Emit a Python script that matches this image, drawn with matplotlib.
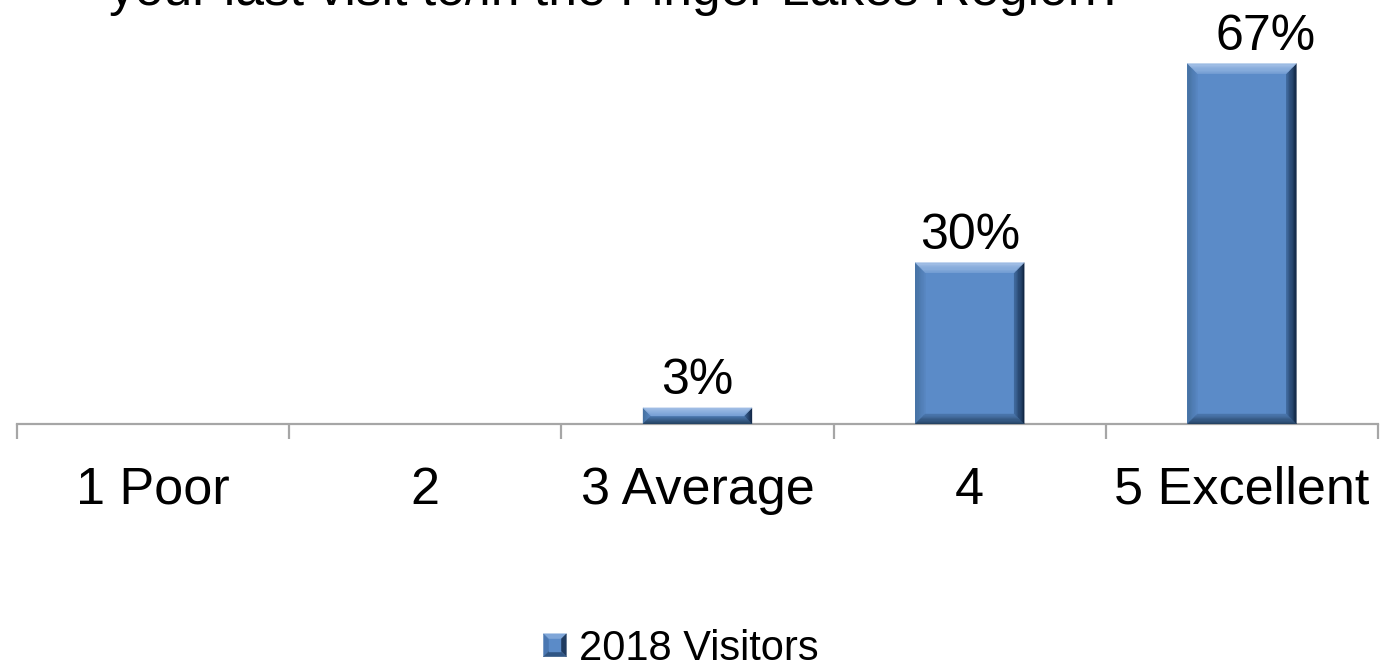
import numpy as np
import matplotlib
matplotlib.use("Agg")
import matplotlib.pyplot as plt
from matplotlib.patches import Polygon
from matplotlib.legend_handler import HandlerBase
from matplotlib.colors import to_rgb

plt.rcParams['font.family'] = ['Liberation Sans', 'DejaVu Sans']

# Survey data
categories = ["1 Poor", "2", "3 Average", "4", "5 Excellent"]
visitors_2018 = [0, 0, 3, 30, 67]
series_name = "2018 Visitors"
title_text = "your last visit to/in the Finger Lakes Region?"

FACE = "#5B8BC8"
BEVEL = {
    "top": ("#A8C3E8", "#78A1D6"),
    "left": ("#44709F", "#5886C2"),
    "right": ("#0F2440", "#3F689C"),
    "bottom": ("#22405F", "#4C77AF"),
}


def mix(c0, c1, t):
    a, b = np.array(to_rgb(c0)), np.array(to_rgb(c1))
    return tuple(a + (b - a) * t)


def add_bevel(ax, patch, size_px=10, steps=8):
    """Overlay a bevelled frame (in pixel units) on a bar patch."""
    to_disp = ax.transData
    to_data = ax.transData.inverted()
    x, y = patch.get_x(), patch.get_y()
    w, h = patch.get_width(), patch.get_height()
    (x0, y0), (x1, y1) = to_disp.transform([(x, y), (x + w, y + h)])
    b = min(size_px, (y1 - y0) / 2.0, (x1 - x0) / 2.0)
    if b <= 0:
        return
    for i in range(steps):
        t0, t1 = b * i / steps, b * (i + 1) / steps
        f = (i + 0.5) / steps
        quads = {
            "top": [(x0 + t0, y1 - t0), (x1 - t0, y1 - t0), (x1 - t1, y1 - t1), (x0 + t1, y1 - t1)],
            "bottom": [(x0 + t0, y0 + t0), (x1 - t0, y0 + t0), (x1 - t1, y0 + t1), (x0 + t1, y0 + t1)],
            "left": [(x0 + t0, y0 + t0), (x0 + t0, y1 - t0), (x0 + t1, y1 - t1), (x0 + t1, y0 + t1)],
            "right": [(x1 - t0, y0 + t0), (x1 - t0, y1 - t0), (x1 - t1, y1 - t1), (x1 - t1, y0 + t1)],
        }
        for side in ("left", "right", "bottom", "top"):
            c0, c1 = BEVEL[side]
            pts = to_data.transform(quads[side])
            ax.add_patch(Polygon(pts, closed=True, facecolor=mix(c0, c1, f),
                                 edgecolor=mix(c0, c1, f), linewidth=0.3, zorder=3))


class BevelSquareHandler(HandlerBase):
    def create_artists(self, legend, orig_handle, xdescent, ydescent,
                       width, height, fontsize, trans):
        s = min(width, height)
        cx = -xdescent + width / 2.0
        cy = -ydescent + height / 2.0
        l, r, bt, tp = cx - s / 2, cx + s / 2, cy - s / 2, cy + s / 2
        c = (cx, cy)
        tris = [
            ([(l, tp), (r, tp), c], "#7FA6D8"),
            ([(l, bt), (l, tp), c], "#4A77B2"),
            ([(r, bt), (r, tp), c], "#1F3B60"),
            ([(l, bt), (r, bt), c], "#2F5584"),
        ]
        arts = []
        for pts, col in tris:
            p = Polygon(pts, closed=True, facecolor=col, edgecolor=col, linewidth=0.3)
            p.set_transform(trans)
            arts.append(p)
        inner = 0.28 * s
        sq = Polygon([(cx - inner, cy - inner), (cx + inner, cy - inner),
                      (cx + inner, cy + inner), (cx - inner, cy + inner)],
                     closed=True, facecolor=FACE, edgecolor=FACE, linewidth=0.3)
        sq.set_transform(trans)
        arts.append(sq)
        return arts


W, H = 1399, 669
fig = plt.figure(figsize=(W / 100, H / 100), dpi=100)
ax = fig.add_axes([17 / W, (H - 424) / H, 1361 / W, 376.6 / H])

x = np.arange(len(categories))
bars = ax.bar(x, visitors_2018, width=0.4, color=FACE, zorder=2, linewidth=0)

ax.set_xlim(-0.5, len(categories) - 0.5)
ax.set_ylim(0, 70)

for side in ("left", "right", "top"):
    ax.spines[side].set_visible(False)
ax.spines["bottom"].set_color("#A6A6A6")
ax.spines["bottom"].set_linewidth(1.6)
ax.set_yticks([])

# category boundaries carry the tick marks; labels sit at the centres
ax.set_xticks(np.arange(-0.5, len(categories) + 0.5, 1.0))
ax.set_xticklabels([])
ax.tick_params(axis="x", which="major", direction="out", length=11,
               width=1.6, color="#A6A6A6")
ax.set_xticks(x, minor=True)
ax.set_xticklabels(categories, minor=True, fontsize=37.5)
ax.tick_params(axis="x", which="minor", length=0, pad=30, labelcolor="black")

for patch in bars:
    if patch.get_height() > 0:
        add_bevel(ax, patch, size_px=10)

label_dx = {4: 17}
for i, (patch, v) in enumerate(zip(bars, visitors_2018)):
    if v <= 0:
        continue
    ax.annotate(f"{v}%", (patch.get_x() + patch.get_width() / 2, v),
                xytext=(label_dx.get(i, 0), 10), textcoords="offset points",
                ha="center", va="baseline", fontsize=36, color="black",
                annotation_clip=False)

fig.text((110 + 1125) / 2 / W, 1 - 5 / H, title_text, ha="center",
         va="baseline", fontsize=37.2, color="black")

fig.legend([bars[0]], [series_name], loc="center",
           bbox_to_anchor=(681 / W, 1 - 649 / H), frameon=False,
           fontsize=30, handlelength=0.55, handleheight=0.55,
           handletextpad=0.3, handler_map={type(bars[0]): BevelSquareHandler()})

fig.savefig("out.png", dpi=100)
